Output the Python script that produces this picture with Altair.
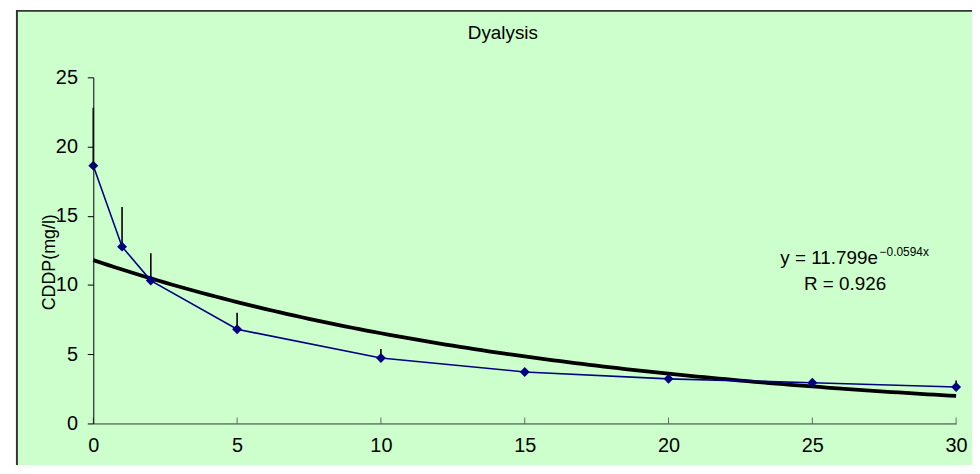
import altair as alt
import pandas as pd

# ---- data ----
times = [0, 1, 2, 5, 10, 15, 20, 25, 30]
conc = [18.62, 12.77, 10.32, 6.8, 4.73, 3.72, 3.22, 2.94, 2.63]
conc_upper = [22.8, 15.64, 12.3, 8.0, 5.37, 3.85, 3.35, 3.2, 3.1]
fit_a = 11.799
fit_b = -0.0594
x_ticks = [0, 5, 10, 15, 20, 25, 30]
y_ticks = [0, 5, 10, 15, 20, 25]
title_text = "Dyalysis"
y_title = "CDDP(mg/l)"
eq_main = "y = 11.799e"
eq_exp = "−0.0594x"
eq_r = "R = 0.926"

FONT = "Liberation Sans"
W, H = 870, 349

df = pd.DataFrame({"t": times, "c": conc, "up": conc_upper})

xscale = alt.Scale(domain=[0, 30], nice=False, zero=True)
yscale = alt.Scale(domain=[0, 25], nice=False, zero=True)

# background frame
frame = alt.Chart(pd.DataFrame({"k": [0]})).mark_rect(
    fill="#CCFFCC", stroke="#333333", strokeWidth=2
).encode(
    x=alt.value(-77), x2=alt.value(W + 40),
    y=alt.value(-67), y2=alt.value(H + 60)
)

# chart title as a text mark
title_mark = alt.Chart(pd.DataFrame({"txt": [title_text]})).mark_text(
    align="center", baseline="alphabetic", fontSize=19, font=FONT, color="black"
).encode(x=alt.value(413), y=alt.value(-39), text="txt:N")

x_axis = alt.Axis(values=x_ticks, ticks=False, grid=False, labelFontSize=20,
                  labelFont=FONT, labelColor="black", labelPadding=12,
                  domainColor="#333333", domainWidth=1, title=None,
                  labelFlush=False, zindex=1)
y_axis = alt.Axis(values=y_ticks, tickSize=6, tickColor="black", grid=False,
                  labelFontSize=20, labelFont=FONT, labelColor="black",
                  labelPadding=10, domainColor="black", domainWidth=1,
                  title=y_title, titleFont=FONT, titleFontSize=18,
                  titleFontWeight="normal", titleColor="black",
                  titleAngle=270, titleX=-44, titleY=186,
                  titleAlign="center", titleBaseline="middle", zindex=1)

base = alt.Chart(df)

err = base.mark_rule(color="black", strokeWidth=1.6).encode(
    x=alt.X("t:Q", scale=xscale, axis=x_axis),
    y=alt.Y("c:Q", scale=yscale, axis=y_axis),
    y2="up:Q",
)

xticks_mark = alt.Chart(pd.DataFrame({"t": x_ticks})).mark_tick(
    color="#333333", size=6, thickness=1, yOffset=-3
).encode(
    x=alt.X("t:Q", scale=xscale),
    y=alt.value(H),
)

trend = alt.Chart(alt.sequence(0, 30.001, 0.25, as_="t")).transform_calculate(
    f=f"{fit_a} * exp({fit_b} * datum.t)"
).mark_line(color="black", strokeWidth=3.8).encode(
    x=alt.X("t:Q", scale=xscale),
    y=alt.Y("f:Q", scale=yscale),
)

line = base.mark_line(color="#000080", strokeWidth=1.6).encode(
    x=alt.X("t:Q", scale=xscale),
    y=alt.Y("c:Q", scale=yscale),
)

pts = base.mark_point(shape="diamond", filled=True, size=100, color="#000080",
                      opacity=1).encode(
    x=alt.X("t:Q", scale=xscale),
    y=alt.Y("c:Q", scale=yscale),
)

ann = pd.DataFrame({
    "x": [27.28, 27.34, 26.14],
    "y": [11.96, 12.35, 10.1],
    "txt": [eq_main, eq_exp, eq_r],
    "kind": ["main", "exp", "r"],
})

t_main = alt.Chart(ann[ann.kind == "main"]).mark_text(
    align="right", baseline="middle", fontSize=19, font=FONT, color="black"
).encode(x=alt.X("x:Q", scale=xscale), y=alt.Y("y:Q", scale=yscale), text="txt:N")

t_exp = alt.Chart(ann[ann.kind == "exp"]).mark_text(
    align="left", baseline="middle", fontSize=12, font=FONT, color="black"
).encode(x=alt.X("x:Q", scale=xscale), y=alt.Y("y:Q", scale=yscale), text="txt:N")

t_r = alt.Chart(ann[ann.kind == "r"]).mark_text(
    align="center", baseline="middle", fontSize=19, font=FONT, color="black"
).encode(x=alt.X("x:Q", scale=xscale), y=alt.Y("y:Q", scale=yscale), text="txt:N")

chart = alt.layer(
    frame, title_mark, err, xticks_mark, trend, line, pts, t_main, t_exp, t_r
).properties(
    width=W, height=H,
    autosize=alt.AutoSizeParams(type="none"),
    padding={"left": 86, "top": 68, "right": 16, "bottom": 40},
).configure(
    background="white"
).configure_view(
    strokeWidth=0
)

chart.save("out.html", embed_options={"renderer": "svg", "actions": False})
